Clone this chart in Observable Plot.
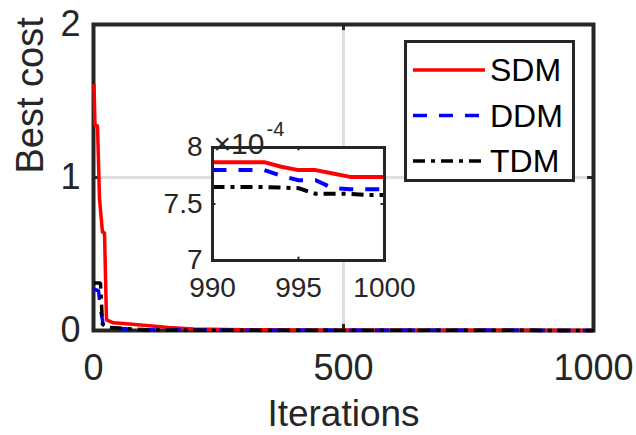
<!DOCTYPE html>
<html><head><meta charset="utf-8">
<script src="https://cdn.jsdelivr.net/npm/d3@7"></script>
<script src="https://cdn.jsdelivr.net/npm/@observablehq/plot@0.6"></script>
<style>
body{margin:0;background:#fff;}
#wrap{position:relative;width:636px;height:435px;overflow:hidden;font-family:"Liberation Sans",Arial,Helvetica,sans-serif;}
#wrap > *{position:absolute;}
</style></head><body><div id="wrap"></div>
<script>
// ---- data ----
const seriesNames = ["SDM", "DDM", "TDM"];
const seriesColors = ["#ff0000", "#0000ff", "#000000"];
const seriesDash = [null, "14,12", "12,6,4,6"];

// main chart (iterations, best cost)
const sdmIter = [1, 3, 8, 12, 18, 22, 26, 40, 60, 100, 150, 200, 300, 500, 1000];
const sdmCost = [1.61, 1.34, 1.34, 0.86, 0.64, 0.64, 0.07, 0.05, 0.045, 0.035, 0.02, 0.01, 0.005, 0.002, 0.00077];
const ddmIter = [1, 10, 14, 20, 40, 100, 200, 500, 1000];
const ddmCost = [0.27, 0.26, 0.14, 0.03, 0.015, 0.006, 0.003, 0.001, 0.00076];
const tdmIter = [1, 14, 18, 30, 100, 200, 500, 1000];
const tdmCost = [0.31, 0.31, 0.04, 0.02, 0.005, 0.002, 0.001, 0.00076];

// inset (iterations 990-1000, cost x 1e-4)
const insetIter = [990, 991, 992, 993, 994, 995, 996, 997, 998, 999, 1000];
const insetSdm = [7.87, 7.87, 7.87, 7.87, 7.83, 7.80, 7.80, 7.77, 7.74, 7.74, 7.74];
const insetDdm = [7.80, 7.80, 7.80, 7.80, 7.75, 7.71, 7.71, 7.64, 7.63, 7.63, 7.63];
const insetTdm = [7.65, 7.65, 7.65, 7.65, 7.645, 7.64, 7.59, 7.59, 7.59, 7.58, 7.58];

const xTicks = [0, 500, 1000];
const yTicks = [0, 1, 2];
const insetXTicks = [990, 995, 1000];
const insetYTicks = [7, 7.5, 8];
const insetExponent = "-4";

// ---- build ----
const FONT = '"Liberation Sans", Arial, Helvetica, sans-serif';
const INK = "#262626";
const GRID = "#dfdfdf";

const toRows = (xs, ys, name) => xs.map((x, i) => ({x, y: ys[i], name}));
const mainSeries = [
  toRows(sdmIter, sdmCost, "SDM"),
  toRows(ddmIter, ddmCost, "DDM"),
  toRows(tdmIter, tdmCost, "TDM")
];
const insetSeries = [
  toRows(insetIter, insetSdm, "SDM"),
  toRows(insetIter, insetDdm, "DDM"),
  toRows(insetIter, insetTdm, "TDM")
];
const lineMarks = (series, w) => series.map((rows, i) =>
  Plot.line(rows, {x: "x", y: "y", stroke: seriesColors[i], strokeWidth: w,
    strokeDasharray: seriesDash[i], strokeLinejoin: "miter", strokeLinecap: "butt"}));

const fmt = d => String(d);

const main = Plot.plot({
  width: 636, height: 435,
  marginLeft: 93, marginRight: 43, marginTop: 24, marginBottom: 105,
  x: {domain: [0, 1000], label: null},
  y: {domain: [0, 2], label: null},
  style: {fontFamily: FONT, fontSize: "36px", color: INK, background: "transparent", overflow: "visible"},
  marks: [
    Plot.gridX(xTicks, {stroke: GRID, strokeWidth: 3, strokeOpacity: 1}),
    Plot.gridY(yTicks, {stroke: GRID, strokeWidth: 3, strokeOpacity: 1}),
    Plot.ruleX([500], {y1: 0, y2: 0.04, stroke: INK, strokeWidth: 3}),
    Plot.ruleX([500], {y1: 1.96, y2: 2, stroke: INK, strokeWidth: 3}),
    Plot.ruleY([1], {x1: 0, x2: 12, stroke: INK, strokeWidth: 3}),
    Plot.ruleY([1], {x1: 988, x2: 1000, stroke: INK, strokeWidth: 3}),
    Plot.frame({stroke: INK, strokeWidth: 4}),
    ...lineMarks(mainSeries, 3.5),
    Plot.axisX(xTicks, {tickSize: 0, tickPadding: 24, tickFormat: fmt, fontSize: 36}),
    Plot.axisY(yTicks, {tickSize: 0, tickPadding: 13, tickFormat: fmt, fontSize: 36}),
    Plot.text(["Iterations"], {text: d => d, frameAnchor: "bottom", dy: 95, fontSize: 37}),
    Plot.text(["Best cost"], {text: d => d, frameAnchor: "left", rotate: -90, dx: -63, dy: -4, fontSize: 38})
  ]
});
main.style.left = "0px"; main.style.top = "0px";

const inset = Plot.plot({
  width: 262, height: 188,
  marginLeft: 60, marginRight: 30, marginTop: 30, marginBottom: 45,
  x: {domain: [990, 1000], label: null},
  y: {domain: [7, 8], label: null},
  style: {fontFamily: FONT, fontSize: "27px", color: INK, background: "transparent", overflow: "visible"},
  marks: [
    Plot.frame({fill: "white"}),
    ...lineMarks(insetSeries, 4),
    Plot.ruleX([995], {y1: 7, y2: 7.03, stroke: INK, strokeWidth: 2}),
    Plot.ruleX([995], {y1: 7.97, y2: 8, stroke: INK, strokeWidth: 2}),
    Plot.ruleY([7.5], {x1: 990, x2: 990.2, stroke: INK, strokeWidth: 2}),
    Plot.ruleY([7.5], {x1: 999.8, x2: 1000, stroke: INK, strokeWidth: 2}),
    Plot.frame({stroke: INK, strokeWidth: 3}),
    Plot.axisX(insetXTicks, {tickSize: 0, tickPadding: 17, tickFormat: fmt, fontSize: 28}),
    Plot.axisY(insetYTicks, {tickSize: 0, tickPadding: 10, tickFormat: fmt, fontSize: 28}),
    Plot.text(["×10"], {text: d => d, frameAnchor: "top-left", textAnchor: "start", dx: 1, dy: -15, fontSize: 30}),
    Plot.text([insetExponent], {text: d => d, frameAnchor: "top-left", textAnchor: "start", dx: 54, dy: -26, fontSize: 20})
  ]
});
inset.style.left = "152px"; inset.style.top = "117px";

// legend
const legend = document.createElement("div");
legend.style.cssText = `left:404px;top:40px;width:165px;height:136px;border:3px solid ${INK};background:#fff;`;
const ns = "http://www.w3.org/2000/svg";
const lsvg = document.createElementNS(ns, "svg");
lsvg.setAttribute("width", 165); lsvg.setAttribute("height", 136);
lsvg.style.display = "block";
seriesNames.forEach((name, i) => {
  const y = 27 + i * 45.5;
  const ln = document.createElementNS(ns, "line");
  ln.setAttribute("x1", 6); ln.setAttribute("x2", 78);
  ln.setAttribute("y1", y); ln.setAttribute("y2", y);
  ln.setAttribute("stroke", seriesColors[i]); ln.setAttribute("stroke-width", 3.5);
  if (seriesDash[i]) ln.setAttribute("stroke-dasharray", seriesDash[i]);
  lsvg.appendChild(ln);
  const t = document.createElementNS(ns, "text");
  t.setAttribute("x", 83); t.setAttribute("y", y);
  t.setAttribute("dominant-baseline", "central");
  t.setAttribute("font-family", FONT); t.setAttribute("font-size", 32);
  t.setAttribute("fill", "#000");
  t.textContent = name;
  lsvg.appendChild(t);
});
legend.appendChild(lsvg);

const wrap = document.getElementById("wrap");
wrap.appendChild(main);
wrap.appendChild(inset);
wrap.appendChild(legend);
</script>
</body></html>
